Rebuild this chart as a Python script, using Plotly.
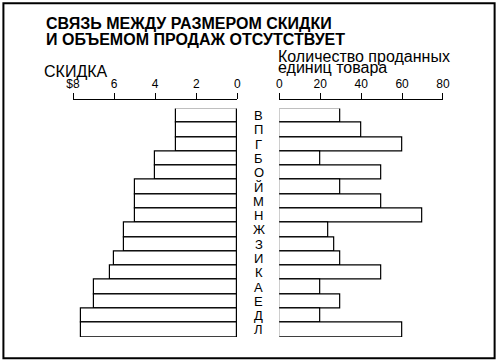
import plotly.graph_objects as go

categories = ["В", "П", "Г", "Б", "О", "Й", "М", "Н", "Ж", "З", "И", "К", "А", "Е", "Д", "Л"]
discount = [3, 3, 3, 4, 4, 5, 5, 5, 5.5, 5.5, 6, 6.2, 7, 7, 7.6, 7.6]
units_sold = [30, 40, 60, 20, 50, 30, 50, 70, 24, 27, 30, 50, 20, 30, 20, 60]

left_ticks = [0, 2, 4, 6, 8]
left_ticktext = ["0", "2", "4", "6", "$8"]
right_ticks = [0, 20, 40, 60, 80]

title_lines = ["СВЯЗЬ МЕЖДУ РАЗМЕРОМ СКИДКИ", "И ОБЪЕМОМ ПРОДАЖ ОТСУТСТВУЕТ"]
left_label = "СКИДКА"
right_label = ["Количество проданных", "единиц товара"]

W, H = 497, 361
L, R, T, B = 72.7, 53.7, 98.8, 24.3
PW = W - L - R
PH = H - T - B

def px(x):
    return (x - L) / PW

def py(y):
    return (H - B - y) / PH

FONT = "Arial, Liberation Sans, sans-serif"

fig = go.Figure()
bar_style = dict(color="white", line=dict(color="black", width=1.2))
fig.add_trace(go.Bar(y=categories, x=discount, orientation="h", marker=bar_style,
                     xaxis="x", yaxis="y", showlegend=False))
fig.add_trace(go.Bar(y=categories, x=units_sold, orientation="h", marker=bar_style,
                     xaxis="x2", yaxis="y", showlegend=False))

axis_common = dict(anchor="free", position=1, side="top", showline=True, linecolor="black",
                   linewidth=1.2, ticks="outside", ticklen=6, tickcolor="black", tickwidth=1.2,
                   showgrid=False, zeroline=False, fixedrange=True,
                   tickfont=dict(family=FONT, size=12, color="black"))

fig.update_layout(
    width=W, height=H,
    margin=dict(l=L, r=R, t=T, b=B, pad=0),
    paper_bgcolor="white", plot_bgcolor="white",
    bargap=0,
    xaxis=dict(domain=[0, px(237.3)], range=[8, 0], tickvals=left_ticks,
               ticktext=left_ticktext, **axis_common),
    xaxis2=dict(domain=[px(279.3), 1], range=[0, 80], tickvals=right_ticks, **axis_common),
    yaxis=dict(domain=[0, py(108.3)], range=[len(categories) - 0.5, -0.5],
               showticklabels=False, showline=False, showgrid=False, zeroline=False,
               type="category", categoryorder="array", categoryarray=categories),
)

annotations = []
for i, line in enumerate(title_lines):
    annotations.append(dict(text="<b>" + line + "</b>", xref="paper", yref="paper",
                            x=px(44), y=py(23.5 + 16 * i), xanchor="left", yanchor="middle",
                            showarrow=False, font=dict(family=FONT, size=16, color="black")))
annotations.append(dict(text=left_label, xref="paper", yref="paper", x=px(42), y=py(71),
                        xanchor="left", yanchor="middle", showarrow=False,
                        font=dict(family=FONT, size=16, color="black")))
for i, line in enumerate(right_label):
    annotations.append(dict(text=line, xref="paper", yref="paper", x=px(276),
                            y=py(56 + 11.5 * i), xanchor="left", yanchor="middle",
                            showarrow=False, font=dict(family=FONT, size=16, color="black")))
for c in categories:
    annotations.append(dict(text=c, xref="paper", yref="y", x=px(259), y=c,
                            xanchor="center", yanchor="middle", showarrow=False,
                            font=dict(family=FONT, size=13, color="black")))
fig.update_layout(annotations=annotations)

fig.add_shape(type="rect", xref="paper", yref="paper", x0=px(3), x1=px(495), y0=py(358), y1=py(3),
              line=dict(color="black", width=2), fillcolor="rgba(0,0,0,0)", layer="above")

fig.write_html("out.html", config={"displayModeBar": False},
               post_script="document.body.style.margin='0';document.body.style.overflow='hidden';")
